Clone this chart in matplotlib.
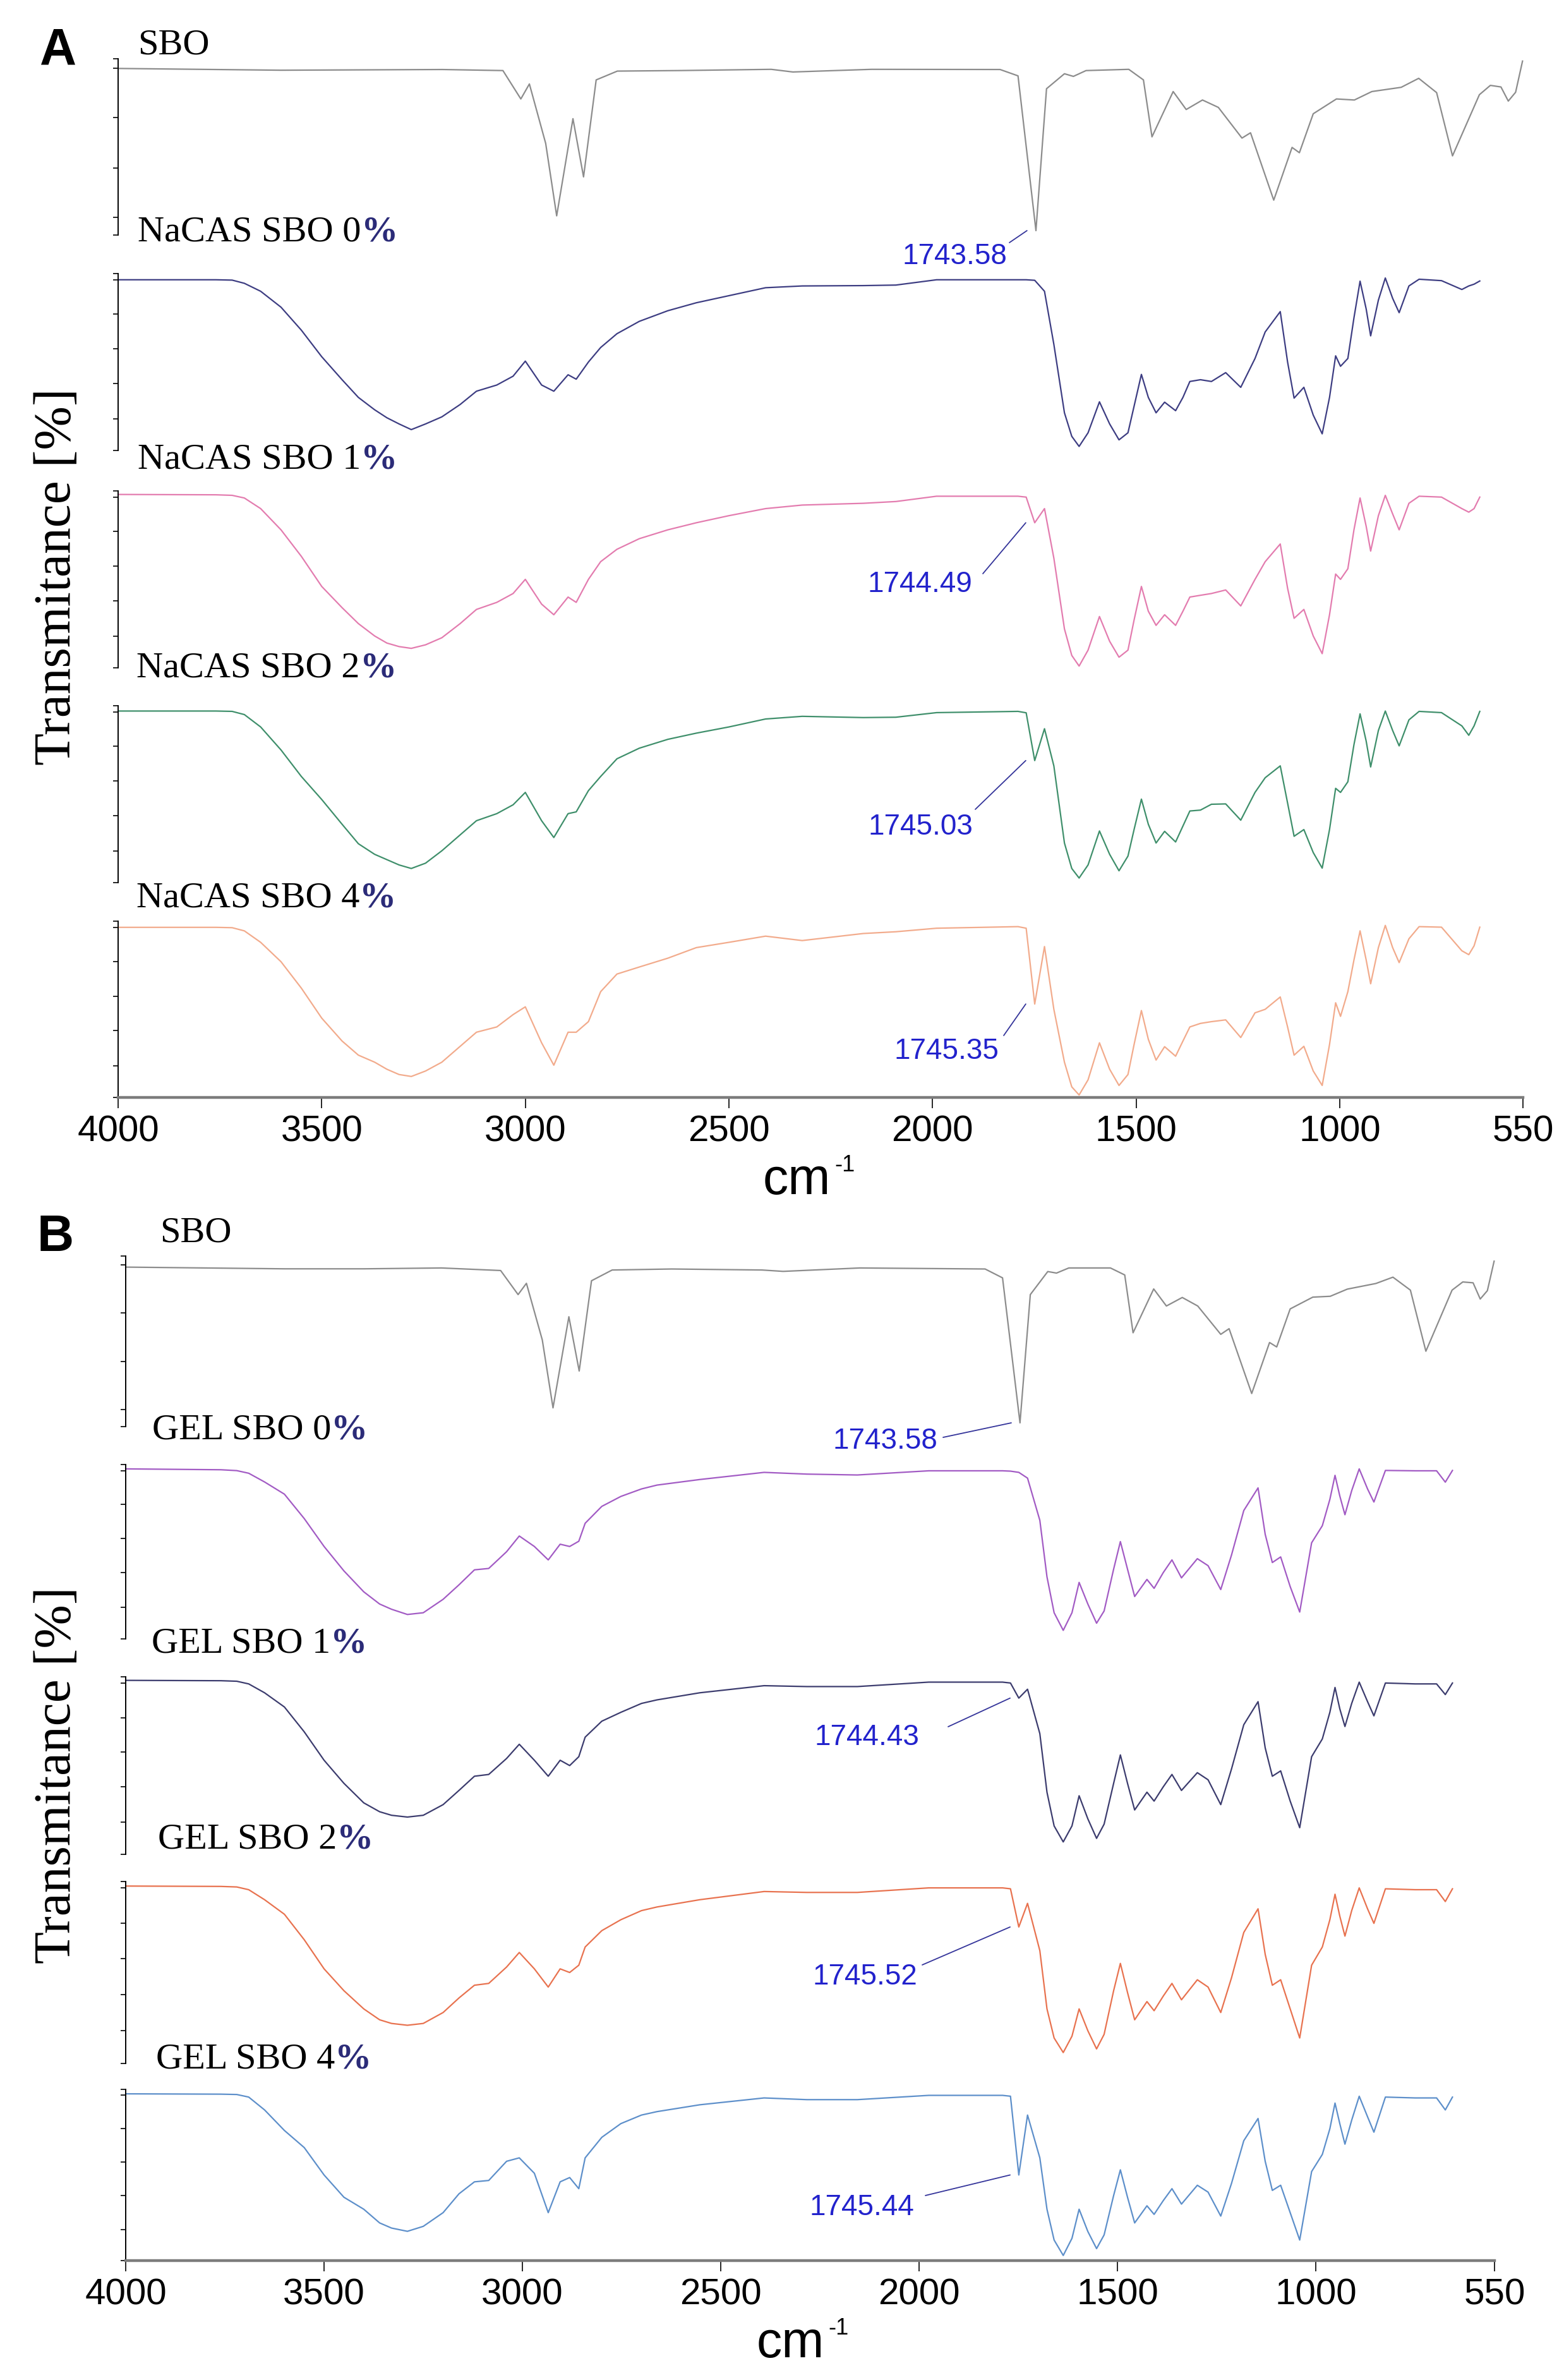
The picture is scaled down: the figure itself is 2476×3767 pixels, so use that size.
import matplotlib
matplotlib.use("Agg")
import matplotlib.pyplot as plt

W, H = 2476, 3767

# ---------------- data (relative transmittance, 0 = bottom of trace box) ----------------
SBO_WN = [4000, 3800, 3600, 3400, 3204, 3055, 3011, 2990, 2950, 2923,
          2883, 2857, 2826, 2774, 2624, 2396, 2343, 2150, 1834, 1790,
          1746, 1720, 1676, 1654, 1623, 1518, 1482, 1461, 1409, 1377,
          1337, 1298, 1240, 1219, 1162, 1117, 1099, 1065, 1008, 964,
          921, 849, 806, 762, 723, 657, 630, 604, 586, 568, 551]
SBO_A = [.945, .94, .935, .937, .939, .933, .772, .857, .52, .109,
         .66, .33, .88, .93, .933, .94, .925, .94, .939, .903,
         .025, .83, .915, .9, .933, .94, .88, .557, .814, .712,
         .766, .724, .55, .58, .198, .497, .467, .688, .772, .766,
         .814, .838, .889, .808, .449, .796, .849, .84, .76, .81, .987]
SBO_B = [.935, .93, .925, .925, .93, .915, .774, .84, .508, .11,
         .644, .326, .855, .918, .924, .918, .91, .93, .924, .872,
         .022, .774, .909, .9, .93, .93, .889, .55, .807, .707,
         .757, .707, .541, .574, .194, .493, .467, .69, .759, .764,
         .806, .839, .876, .80, .442, .8, .848, .843, .748, .797, .97]

NACAS_WN = [4000, 3760, 3720, 3690, 3650, 3600, 3550, 3500, 3450, 3410,
            3370, 3340, 3310, 3280, 3245, 3205, 3160, 3120, 3070, 3030,
            3000, 2960, 2930, 2895, 2875, 2845, 2815, 2775, 2720, 2650,
            2580, 2500, 2410, 2320, 2170, 2090, 1990, 1790, 1770, 1749,
            1725, 1702, 1676, 1658, 1640, 1618, 1590, 1565, 1542, 1520,
            1505, 1487, 1470, 1451, 1430, 1403, 1385, 1368, 1342, 1315,
            1280, 1243, 1208, 1183, 1146, 1128, 1112, 1088, 1065, 1043,
            1025, 1010, 998, 980, 965, 950, 935, 924, 905, 888,
            870, 854, 830, 805, 750, 700, 683, 670, 656]
NACAS_0 = [.965, .965, .963, .945, .9, .81, .68, .53, .4, .3,
           .23, .185, .15, .118, .15, .19, .26, .335, .37, .42,
           .505, .37, .335, .428, .403, .5, .582, .66, .73, .79,
           .835, .875, .92, .93, .932, .935, .965, .965, .965, .962,
           .9, .6, .213, .08, .023, .1, .275, .15, .06, .1,
           .25, .43, .3, .213, .273, .225, .3, .39, .4, .39,
           .44, .357, .52, .67, .785, .5, .296, .357, .2, .094,
           .3, .535, .476, .52, .75, .957, .8, .648, .85, .975,
           .86, .779, .93, .968, .96, .91, .93, .94, .958]
NACAS_1 = [.98, .978, .975, .96, .9, .78, .63, .46, .34, .25,
           .18, .14, .12, .11, .13, .17, .25, .33, .37, .42,
           .5, .36, .3, .4, .37, .5, .6, .67, .73, .78,
           .82, .86, .9, .92, .93, .94, .97, .97, .965, .82,
           .9, .62, .22, .07, .01, .1, .29, .15, .06, .1,
           .27, .46, .32, .24, .3, .24, .32, .4, .41, .42,
           .44, .35, .5, .6, .7, .45, .28, .33, .18, .08,
           .3, .53, .5, .56, .78, .96, .8, .66, .86, .975,
           .87, .78, .93, .97, .965, .9, .88, .9, .965]
NACAS_2 = [.97, .97, .968, .95, .88, .75, .6, .47, .33, .22,
           .16, .13, .1, .08, .11, .18, .27, .35, .39, .44,
           .51, .35, .255, .39, .40, .52, .6, .7, .76, .81,
           .845, .88, .925, .94, .933, .935, .961, .968, .96, .69,
           .87, .66, .224, .08, .026, .1, .292, .16, .067, .15,
           .3, .472, .33, .224, .29, .23, .32, .405, .41, .443,
           .445, .353, .51, .593, .66, .45, .262, .3, .17, .082,
           .3, .533, .51, .57, .78, .954, .8, .654, .86, .97,
           .86, .773, .92, .968, .961, .886, .833, .886, .968]
NACAS_4 = [.965, .965, .963, .945, .88, .77, .62, .45, .32, .24,
           .2, .16, .13, .119, .15, .2, .29, .37, .40, .47,
           .514, .31, .183, .37, .37, .43, .6, .7, .74, .79,
           .85, .88, .915, .89, .93, .94, .96, .969, .96, .53,
           .856, .5, .2, .06, .014, .1, .31, .16, .068, .13,
           .3, .493, .33, .212, .288, .234, .32, .4, .42, .43,
           .44, .34, .48, .5, .57, .4, .24, .29, .15, .068,
           .3, .537, .46, .6, .78, .945, .78, .645, .85, .976,
           .85, .765, .9, .969, .966, .832, .81, .86, .966]

GEL_WN = [4000, 3760, 3720, 3690, 3650, 3600, 3550, 3500, 3450, 3400,
          3360, 3330, 3290, 3250, 3200, 3160, 3121, 3085, 3040, 3008,
          2970, 2935, 2905, 2881, 2858, 2842, 2800, 2752, 2700, 2661,
          2553, 2391, 2283, 2156, 1976, 1790, 1770, 1749, 1727, 1696,
          1678, 1660, 1637, 1615, 1597, 1575, 1553, 1534, 1510, 1493,
          1475, 1457, 1426, 1408, 1385, 1363, 1339, 1299, 1272, 1240,
          1213, 1182, 1146, 1128, 1110, 1089, 1065, 1041, 1011, 984,
          965, 952, 940, 927, 910, 891, 870, 854, 825, 750,
          696, 674, 656]
GEL_0 = [.975, .97, .965, .95, .9, .83, .69, .53, .39, .27,
         .2, .17, .14, .15, .227, .31, .396, .404, .5, .59,
         .53, .453, .543, .53, .56, .663, .76, .817, .86, .882,
         .914, .955, .945, .94, .964, .964, .962, .955, .922, .68,
         .356, .15, .049, .15, .324, .2, .09, .16, .4, .558,
         .4, .243, .341, .29, .38, .453, .35, .46, .42, .283,
         .48, .736, .866, .6, .438, .47, .3, .154, .551, .649,
         .8, .938, .82, .712, .85, .975, .86, .785, .966, .964,
         .964, .899, .966]
GEL_1 = [.98, .978, .975, .96, .91, .83, .69, .53, .4, .29,
         .24, .22, .21, .22, .28, .36, .44, .45, .54, .62,
         .53, .44, .53, .5, .55, .66, .75, .8, .85, .87,
         .91, .95, .945, .945, .97, .97, .965, .88, .93, .68,
         .35, .16, .07, .16, .33, .2, .09, .17, .4, .56,
         .4, .25, .35, .3, .38, .45, .36, .46, .42, .28,
         .48, .73, .86, .6, .44, .47, .3, .15, .55, .65,
         .8, .94, .82, .72, .85, .97, .86, .78, .965, .96,
         .96, .9, .965]
GEL_2 = [.975, .973, .97, .955, .9, .82, .68, .52, .4, .3,
         .24, .22, .21, .22, .28, .36, .43, .44, .53, .61,
         .52, .42, .52, .5, .54, .64, .73, .79, .84, .86,
         .9, .945, .94, .94, .965, .965, .96, .75, .88, .62,
         .3, .14, .06, .15, .3, .18, .08, .16, .4, .55,
         .39, .24, .34, .29, .37, .44, .35, .46, .42, .28,
         .47, .72, .85, .6, .43, .46, .3, .14, .54, .64,
         .79, .93, .81, .7, .84, .965, .85, .77, .96, .955,
         .955, .89, .96]
GEL_4 = [.974, .972, .97, .955, .88, .76, .66, .5, .37, .3,
         .22, .19, .171, .2, .28, .39, .46, .468, .58, .6,
         .51, .28, .46, .485, .42, .6, .72, .8, .85, .87,
         .91, .95, .94, .94, .965, .965, .96, .5, .85, .6,
         .3, .12, .03, .13, .3, .17, .07, .15, .38, .53,
         .37, .22, .32, .27, .35, .42, .33, .44, .4, .26,
         .45, .7, .83, .58, .41, .44, .28, .12, .52, .62,
         .77, .92, .8, .68, .82, .96, .84, .75, .955, .95,
         .95, .88, .955]

LABELS_A = ["SBO", "NaCAS SBO 0%", "NaCAS SBO 1%", "NaCAS SBO 2%", "NaCAS SBO 4%"]
LABELS_B = ["SBO", "GEL SBO 0%", "GEL SBO 1%", "GEL SBO 2%", "GEL SBO 4%"]
PEAKS_A = ["1743.58", "1744.49", "1745.03", "1745.35"]
PEAKS_B = ["1743.58", "1744.43", "1745.52", "1745.44"]
XTICKS = [4000, 3500, 3000, 2500, 2000, 1500, 1000, 550]

# ---------------- layout (pixels of the 2476 x 3767 canvas) ----------------
COLORS_A = ["#8c8c8c", "#3d3d82", "#e37caf", "#3f8f6b", "#f2ab8c"]
COLORS_B = ["#8c8c8c", "#a25bc4", "#3c3c6e", "#e8724f", "#5d8fca"]
ROWS_A = [(93, 372), (433, 713), (777, 1057), (1117, 1397), (1458, 1737)]
ROWS_B = [(1988, 2258), (2318, 2594), (2654, 2935), (2978, 3266), (3307, 3578)]
XR_A = (187, 2411)
XR_B = (199, 2366)
LABEL_POS_A = [(218, 71), (218, 367), (218, 727), (216, 1057), (216, 1422)]
LABEL_POS_B = [(253, 1952), (241, 2263), (240, 2601), (250, 2911), (247, 3259)]
# (row, text centre, line start)
ANN_A = [(0, (1511, 406), (1598, 384)), (2, (1456, 925), (1556, 908)),
         (3, (1457, 1309), (1544, 1281)), (4, (1498, 1664), (1589, 1639))]
ANN_B = [(0, (1401, 2281), (1493, 2275)), (2, (1372, 2750), (1501, 2733)),
         (3, (1369, 3129), (1460, 3110)), (4, (1364, 3494), (1465, 3475))]

SBO_TICKS = [0, .1, .38, .665, .947, 1]
FILM_TICKS = [0, .18, .38, .575, .77, .965, 1]

SERIF = "Liberation Serif"
SANS = "Liberation Sans"
PCT_COLOR = "#2b2b78"
ANN_COLOR = "#2222cc"

fig = plt.figure(figsize=(W / 100, H / 100), dpi=100)
renderer = fig.canvas.get_renderer()


def px(x, y):
    return x / W, 1 - y / H


def make_axes(xr, row, ticks, bottom):
    x0, x1 = xr
    y0, y1 = row
    ax = fig.add_axes([x0 / W, 1 - y1 / H, (x1 - x0) / W, (y1 - y0) / H])
    ax.set_xlim(4000, 550)
    ax.set_ylim(0, 1)
    ax.patch.set_alpha(0)
    ax.spines["top"].set_visible(False)
    ax.spines["right"].set_visible(False)
    ax.spines["left"].set_linewidth(1.4)
    ax.set_yticks(ticks)
    ax.set_yticklabels([])
    ax.tick_params(axis="y", direction="out", length=6, width=1.2)
    if bottom:
        ax.spines["bottom"].set_color("#7c7c7c")
        ax.spines["bottom"].set_linewidth(3.2)
        ax.set_xticks(XTICKS)
        ax.set_xticklabels([str(t) for t in XTICKS], fontsize=42, family=SANS)
        ax.tick_params(axis="x", direction="out", length=12, width=1.2, pad=8)
    else:
        ax.spines["bottom"].set_visible(False)
        ax.set_xticks([])
    return ax


def put_label(x, y, s):
    if s.endswith("%"):
        t = fig.text(*px(x, y), s[:-1], fontsize=42, family=SERIF, ha="left", va="center")
        bb = t.get_window_extent(renderer)
        fig.text(bb.x1 / W, 1 - y / H, "%", fontsize=42, family=SERIF, weight="bold",
                 color=PCT_COLOR, ha="left", va="center")
    else:
        fig.text(*px(x, y), s, fontsize=42, family=SERIF, ha="left", va="center")


def put_unit(x, y):
    # "cm" with a small raised "-1"
    t = fig.text(*px(x, y), "cm", fontsize=58, family=SANS, ha="left", va="baseline")
    bb = t.get_window_extent(renderer)
    fig.text((bb.x1 + 6) / W, 1 - (y - 36) / H, "-1", fontsize=26, family=SANS,
             ha="left", va="baseline")


def draw_panel(letter, xr, rows, wns, series, colors, labels, label_pos, peaks, anns,
               ylab_y, letter_pos, unit_x):
    axes = []
    for i, (wn, vals) in enumerate(zip(wns, series)):
        ticks = SBO_TICKS if i == 0 else FILM_TICKS
        ax = make_axes(xr, rows[i], ticks, i == len(rows) - 1)
        ax.plot(wn, vals, color=colors[i], lw=1.6, clip_on=False)
        axes.append(ax)
    for (x, y), s in zip(label_pos, labels):
        put_label(x, y, s)
    for (row, tc, ls), p in zip(anns, peaks):
        wn, vals = wns[row], series[row]
        k = min(range(len(wn)), key=lambda j: abs(wn[j] - 1748))
        axes[row].annotate("", xy=(wn[k] + 22, vals[k]), xycoords="data",
                           xytext=(ls[0], H - ls[1]), textcoords="figure pixels",
                           arrowprops=dict(arrowstyle="-", color="#34349a", lw=1.3,
                                           shrinkA=0, shrinkB=0))
        fig.text(*px(*tc), p, fontsize=33, family=SANS, color=ANN_COLOR,
                 ha="center", va="center")
    fig.text(*px(*letter_pos), letter, fontsize=58, family=SANS, weight="heavy",
             ha="center", va="center")
    fig.text(*px(91, ylab_y), "Transmitance [%]", fontsize=60, family=SERIF,
             rotation=90, ha="center", va="center")
    put_unit(unit_x, rows[-1][1] + 153)


draw_panel("A", XR_A, ROWS_A,
           [SBO_WN, NACAS_WN, NACAS_WN, NACAS_WN, NACAS_WN],
           [SBO_A, NACAS_0, NACAS_1, NACAS_2, NACAS_4],
           COLORS_A, LABELS_A, LABEL_POS_A, PEAKS_A, ANN_A, 913, (92, 80), 1208)
draw_panel("B", XR_B, ROWS_B,
           [SBO_WN, GEL_WN, GEL_WN, GEL_WN, GEL_WN],
           [SBO_B, GEL_0, GEL_1, GEL_2, GEL_4],
           COLORS_B, LABELS_B, LABEL_POS_B, PEAKS_B, ANN_B, 2810, (88, 1959), 1198)

fig.savefig("out.png", dpi=100, facecolor="white")
